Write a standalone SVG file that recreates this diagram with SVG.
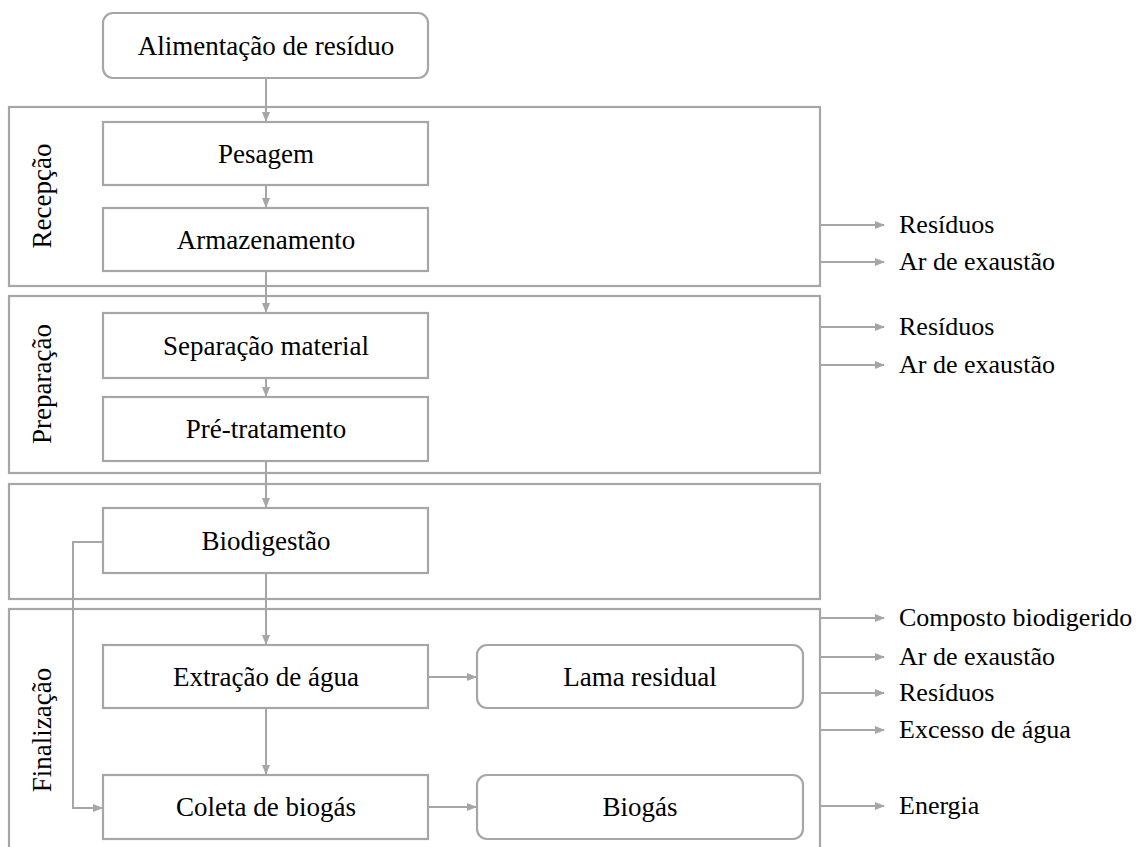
<svg xmlns="http://www.w3.org/2000/svg" width="1148" height="847" viewBox="0 0 1148 847">
<style>
.band{fill:none;stroke:#a6a6a6;stroke-width:2.2}
.box{fill:#fff;stroke:#a6a6a6;stroke-width:2.2}
.c{fill:none;stroke:#a6a6a6;stroke-width:2}
text{font-family:'Liberation Serif','Times New Roman',serif;font-size:27px;fill:#000}
.out{font-size:26px}
.m{text-anchor:middle}
</style>
<defs>
<marker id="ah" markerWidth="10" markerHeight="8" refX="9" refY="4" orient="auto" markerUnits="userSpaceOnUse">
<path d="M0,0 L10,4 L0,8 Z" fill="#a6a6a6"/>
</marker>
</defs>
<rect width="1148" height="847" fill="#fff"/>
<g id="band-recepcao">
<rect class="band" x="9" y="107" width="811" height="179"/>
<text x="51" y="196" class="m" transform="rotate(-90 51 196)">Recepção</text>
</g>
<g id="band-preparacao">
<rect class="band" x="9" y="296" width="811" height="177"/>
<text x="51" y="384" class="m" transform="rotate(-90 51 384)">Preparação</text>
</g>
<g id="band-biodigestao">
<rect class="band" x="9" y="484" width="811" height="115"/>
</g>
<g id="band-finalizacao">
<rect class="band" x="9" y="609" width="811" height="243"/>
<text x="51" y="730" class="m" transform="rotate(-90 51 730)">Finalização</text>
</g>

<g id="connectors">
<line class="c" x1="266" y1="78" x2="266" y2="121" marker-end="url(#ah)"/>
<line class="c" x1="266" y1="185" x2="266" y2="207" marker-end="url(#ah)"/>
<line class="c" x1="266" y1="271" x2="266" y2="312" marker-end="url(#ah)"/>
<line class="c" x1="266" y1="378" x2="266" y2="396" marker-end="url(#ah)"/>
<line class="c" x1="266" y1="461" x2="266" y2="507" marker-end="url(#ah)"/>
<line class="c" x1="266" y1="573" x2="266" y2="644" marker-end="url(#ah)"/>
<line class="c" x1="266" y1="708" x2="266" y2="774" marker-end="url(#ah)"/>
<polyline class="c" points="103,542 73,542 73,808 102,808" marker-end="url(#ah)"/>
<line class="c" x1="428" y1="677" x2="476" y2="677" marker-end="url(#ah)"/>
<line class="c" x1="428" y1="807" x2="476" y2="807" marker-end="url(#ah)"/>
<line class="c" x1="821" y1="225" x2="884" y2="225" marker-end="url(#ah)"/>
<line class="c" x1="821" y1="262" x2="884" y2="262" marker-end="url(#ah)"/>
<line class="c" x1="821" y1="327" x2="884" y2="327" marker-end="url(#ah)"/>
<line class="c" x1="821" y1="365" x2="884" y2="365" marker-end="url(#ah)"/>
<line class="c" x1="821" y1="618" x2="884" y2="618" marker-end="url(#ah)"/>
<line class="c" x1="821" y1="657" x2="884" y2="657" marker-end="url(#ah)"/>
<line class="c" x1="821" y1="693" x2="884" y2="693" marker-end="url(#ah)"/>
<line class="c" x1="821" y1="730" x2="884" y2="730" marker-end="url(#ah)"/>
<line class="c" x1="821" y1="806" x2="884" y2="806" marker-end="url(#ah)"/>
</g>

<g id="alimentacao">
<rect class="box" x="103" y="13" width="325" height="65" rx="10"/>
<text x="266" y="55" class="m">Alimentação de resíduo</text>
</g>
<g id="pesagem">
<rect class="box" x="103" y="122" width="325" height="63"/>
<text x="266" y="163" class="m">Pesagem</text>
</g>
<g id="armazenamento">
<rect class="box" x="103" y="208" width="325" height="63"/>
<text x="266" y="249" class="m">Armazenamento</text>
</g>
<g id="separacao">
<rect class="box" x="103" y="313" width="325" height="65"/>
<text x="266" y="355" class="m">Separação material</text>
</g>
<g id="pretratamento">
<rect class="box" x="103" y="397" width="325" height="64"/>
<text x="266" y="438" class="m">Pré-tratamento</text>
</g>
<g id="biodigestao">
<rect class="box" x="103" y="508" width="325" height="65"/>
<text x="266" y="550" class="m">Biodigestão</text>
</g>
<g id="extracao">
<rect class="box" x="103" y="645" width="325" height="63"/>
<text x="266" y="686" class="m">Extração de água</text>
</g>
<g id="coleta">
<rect class="box" x="103" y="775" width="325" height="64"/>
<text x="266" y="816" class="m">Coleta de biogás</text>
</g>
<g id="lama">
<rect class="box" x="477" y="645" width="326" height="63" rx="10"/>
<text x="640" y="686" class="m">Lama residual</text>
</g>
<g id="biogas">
<rect class="box" x="477" y="775" width="326" height="64" rx="10"/>
<text x="640" y="816" class="m">Biogás</text>
</g>

<g id="outputs">
<text class="out" x="899" y="233">Resíduos</text>
<text class="out" x="899" y="270">Ar de exaustão</text>
<text class="out" x="899" y="335">Resíduos</text>
<text class="out" x="899" y="373">Ar de exaustão</text>
<text class="out" x="899" y="626">Composto biodigerido</text>
<text class="out" x="899" y="665">Ar de exaustão</text>
<text class="out" x="899" y="701">Resíduos</text>
<text class="out" x="899" y="738">Excesso de água</text>
<text class="out" x="899" y="814">Energia</text>
</g>
</svg>
